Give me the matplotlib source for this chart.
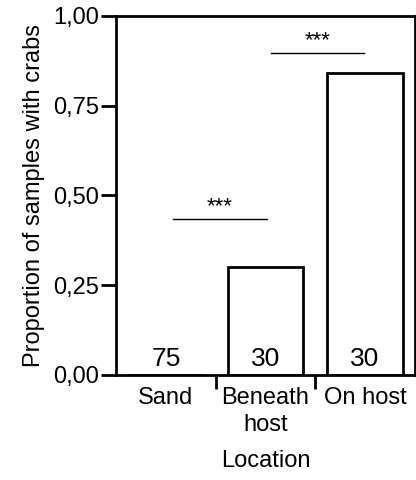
import matplotlib
matplotlib.use("Agg")
import matplotlib.pyplot as plt

plt.rcParams['font.family'] = ['Liberation Sans', 'DejaVu Sans']

locations = ["Sand", "Beneath\nhost", "On host"]
proportions = [0.0, 0.30, 0.84]
sample_sizes = ["75", "30", "30"]
yticks = [0.0, 0.25, 0.5, 0.75, 1.0]
ytick_labels = ["0,00", "0,25", "0,50", "0,75", "1,00"]
# significance brackets: (x start, x end, height, label)
sig_lines = [(0.07, 1.015, 0.435, "***"), (1.055, 1.99, 0.897, "***")]

fig = plt.figure(figsize=(4.16, 4.8), dpi=100)
ax = fig.add_axes([0.279, 0.219, 0.718, 0.748])

x = range(len(locations))
ax.bar(x, proportions, width=0.76, facecolor="white", edgecolor="black", linewidth=2)

for i, n in enumerate(sample_sizes):
    ax.text(i, 0.01, n, ha="center", va="bottom", fontsize=19)

for x0, x1, h, lab in sig_lines:
    ax.plot([x0, x1], [h, h], color="black", linewidth=1)
    ax.text((x0 + x1) / 2, h + 0.005, lab, ha="center", va="bottom", fontsize=16)

ax.set_xlim(-0.5, 2.5)
ax.set_ylim(0, 1.0)
ax.set_yticks(yticks)
ax.set_yticklabels(ytick_labels, fontsize=17)
ax.set_xticks([0.5, 1.5])
ax.set_xticklabels([])
ax.set_xticks(list(x), minor=True)
ax.set_xticklabels(locations, minor=True, fontsize=17, linespacing=1.3)
ax.tick_params(axis="x", which="minor", length=0, pad=9)
ax.tick_params(axis="x", which="major", length=10, width=2, direction="out")
ax.tick_params(axis="y", length=11, width=2, pad=1)

for s in ax.spines.values():
    s.set_linewidth(2)

ax.set_ylabel("Proportion of samples with crabs", fontsize=17, labelpad=6)
ax.set_xlabel("Location", fontsize=17, labelpad=10)

fig.savefig("out.png", dpi=100)
